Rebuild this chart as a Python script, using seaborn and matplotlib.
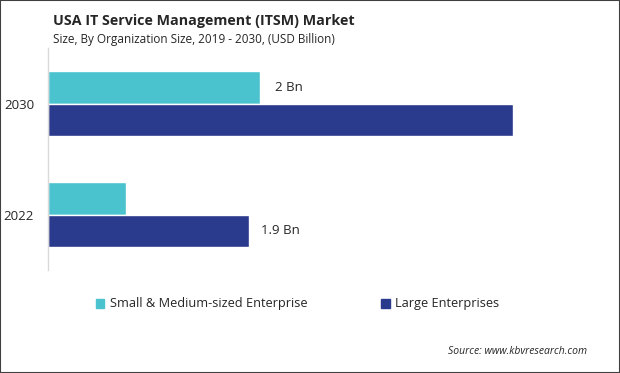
import pandas as pd
import matplotlib.pyplot as plt
import seaborn as sns
from matplotlib.patches import Rectangle

# values (USD Billion)
years = ["2030", "2022"]
segments = ["Small & Medium-sized Enterprise", "Large Enterprises"]
sme_values = [2.0, 0.74]
large_values = [4.39, 1.9]
sme_labels = ["2 Bn", ""]
large_labels = ["", "1.9 Bn"]

colors = ["#4BC3CF", "#2A3A8D"]

df = pd.DataFrame({
    "year": years * 2,
    "segment": [segments[0]] * len(years) + [segments[1]] * len(years),
    "value": sme_values + large_values,
})

sns.set_style("white")
plt.rcParams["font.family"] = ["Open Sans", "DejaVu Sans"]

fig = plt.figure(figsize=(6.2, 3.73), dpi=100)
ax = fig.add_axes([48 / 620, 1 - 270 / 373, 552 / 620, 222 / 373])

sns.barplot(data=df, x="value", y="year", hue="segment", order=years,
            hue_order=segments, palette=colors, width=0.58, orient="h",
            saturation=1, ax=ax, legend=False)

ax.set_xlim(0, 552 / 106)
ax.set_ylim(1.5, -0.5)
ax.set_xlabel("")
ax.set_ylabel("")
ax.set_xticks([])
ax.tick_params(axis="y", length=0, pad=10, labelsize=9.5)
for s in ["top", "right", "bottom"]:
    ax.spines[s].set_visible(False)
ax.spines["left"].set_color("#D9D9D9")
ax.spines["left"].set_linewidth(1)

ax.bar_label(ax.containers[0], labels=sme_labels, padding=11, fontsize=9.5)
ax.bar_label(ax.containers[1], labels=large_labels, padding=8, fontsize=9.5)

fig.text(53 / 620, 1 - 21 / 373, "USA IT Service Management (ITSM) Market",
         fontsize=10.3, fontweight="bold", va="center", ha="left")
fig.text(53 / 620, 1 - 40 / 373, "Size, By Organization Size, 2019 - 2030, (USD Billion)",
         fontsize=8.5, va="center", ha="left")

handles = [Rectangle((0, 0), 1, 1, color=c) for c in colors]
fig.legend(handles, segments, loc="center left", bbox_to_anchor=(84 / 620, 1 - 304 / 373),
           ncol=2, frameon=False, fontsize=9.2, handlelength=0.7, handleheight=0.7,
           handletextpad=0.4, columnspacing=5.8)

fig.text(587 / 620, 1 - 352 / 373, "Source: www.kbvresearch.com", fontsize=7.5,
         style="italic", ha="right", va="center")

fig.add_artist(Rectangle((0, 0), 1, 1, transform=fig.transFigure, fill=False,
                         edgecolor="#404040", linewidth=1.5))

fig.savefig("out.png", dpi=100)
